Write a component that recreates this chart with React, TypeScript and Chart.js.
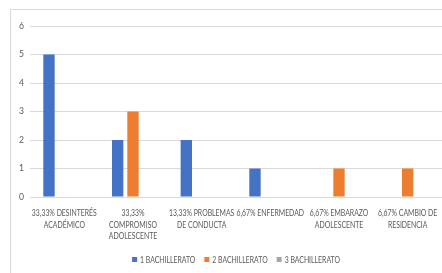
import React, { useEffect, useRef } from "react";
import { Chart, registerables } from "chart.js";

Chart.register(...registerables);

const categories: string[][] = [
  ["33,33% DESINTERÉS", "ACADÉMICO"],
  ["33,33%", "COMPROMISO", "ADOLESCENTE"],
  ["13,33% PROBLEMAS", "DE CONDUCTA"],
  ["6,67% ENFERMEDAD"],
  ["6,67% EMBARAZO", "ADOLESCENTE"],
  ["6,67% CAMBIO DE", "RESIDENCIA"],
];
const seriesNames = ["1 BACHILLERATO", "2 BACHILLERATO", "3 BACHILLERATO"];
const bach1 = [5, 2, 2, 1, 0, 0];
const bach2 = [0, 3, 0, 0, 1, 1];
const bach3 = [0, 0, 0, 0, 0, 0];
const colors = ["#4472C4", "#ED7D31", "#A5A5A5"];

const FONT = "Lato, 'Open Sans', sans-serif";
const TEXT = "#595959";
const SX = 0.8; // horizontal condensing to mimic the narrow original face

const framePlugin = {
  id: "frame",
  beforeDraw(chart: any) {
    const ctx = chart.ctx;
    ctx.save();
    ctx.fillStyle = "#ffffff";
    ctx.fillRect(0, 0, chart.width, chart.height);
    ctx.strokeStyle = "#d9d9d9";
    ctx.lineWidth = 1;
    ctx.beginPath();
    ctx.moveTo(10.5, chart.height);
    ctx.lineTo(10.5, 9.5);
    ctx.lineTo(chart.width, 9.5);
    ctx.stroke();
    ctx.restore();
  },
  afterDraw(chart: any) {
    const ctx = chart.ctx;
    const xs = chart.scales.x;
    const base = chart.chartArea.bottom;
    ctx.save();
    ctx.font = `8.6px ${FONT}`;
    ctx.fillStyle = TEXT;
    ctx.textAlign = "center";
    ctx.textBaseline = "middle";
    categories.forEach((lines, i) => {
      const x = xs.getPixelForValue(i);
      lines.forEach((ln, j) => {
        ctx.save();
        ctx.translate(x, base + 16 + j * 11.8);
        ctx.scale(SX, 1);
        ctx.fillText(ln, 0, 0);
        ctx.restore();
      });
    });
    // legend
    const box = 5;
    const gapBox = 3;
    const gapItem = 9;
    const widths = seriesNames.map((n) => ctx.measureText(n).width * SX);
    const total = widths.reduce((a, w) => a + box + gapBox + w, 0) + gapItem * (seriesNames.length - 1);
    let lx = chart.width / 2 - total / 2;
    const ly = 260;
    ctx.textAlign = "left";
    seriesNames.forEach((n, i) => {
      ctx.fillStyle = colors[i];
      ctx.fillRect(lx, ly - box / 2 - 0.5, box, box);
      ctx.fillStyle = TEXT;
      ctx.save();
      ctx.translate(lx + box + gapBox, ly);
      ctx.scale(SX, 1);
      ctx.fillText(n, 0, 0);
      ctx.restore();
      lx += box + gapBox + widths[i] + gapItem;
    });
    ctx.restore();
  },
};

export default function App() {
  const ref = useRef<HTMLCanvasElement | null>(null);
  useEffect(() => {
    document.body.style.margin = "0";
    document.body.style.overflow = "hidden";
    const data = [bach1, bach2, bach3];
    const chart = new Chart(ref.current!, {
      type: "bar",
      data: {
        labels: categories.map((c) => c.join(" ")),
        datasets: seriesNames.map((n, i) => ({
          label: n,
          data: data[i],
          backgroundColor: colors[i],
          borderWidth: 0,
          categoryPercentage: 0.67,
          barPercentage: 0.74,
        })),
      },
      options: {
        responsive: false,
        animation: false,
        devicePixelRatio: 1,
        layout: { padding: { left: 13, right: 30, top: 26, bottom: 76 } },
        plugins: {
          legend: { display: false },
          tooltip: { enabled: false },
        },
        scales: {
          x: {
            grid: { display: false, drawTicks: false },
            border: { display: false },
            ticks: { display: false },
          },
          y: {
            min: 0,
            max: 6,
            grid: { color: "#d9d9d9", drawTicks: false },
            border: { display: false },
            ticks: {
              stepSize: 1,
              color: TEXT,
              font: { family: FONT, size: 8.6 },
              padding: 6,
            },
          },
        },
      },
      plugins: [framePlugin],
    });
    return () => chart.destroy();
  }, []);
  return (
    <div style={{ position: "fixed", left: 0, top: 0, width: 442, height: 273, overflow: "hidden" }}>
      <canvas ref={ref} width={472} height={273} style={{ display: "block" }} />
    </div>
  );
}
